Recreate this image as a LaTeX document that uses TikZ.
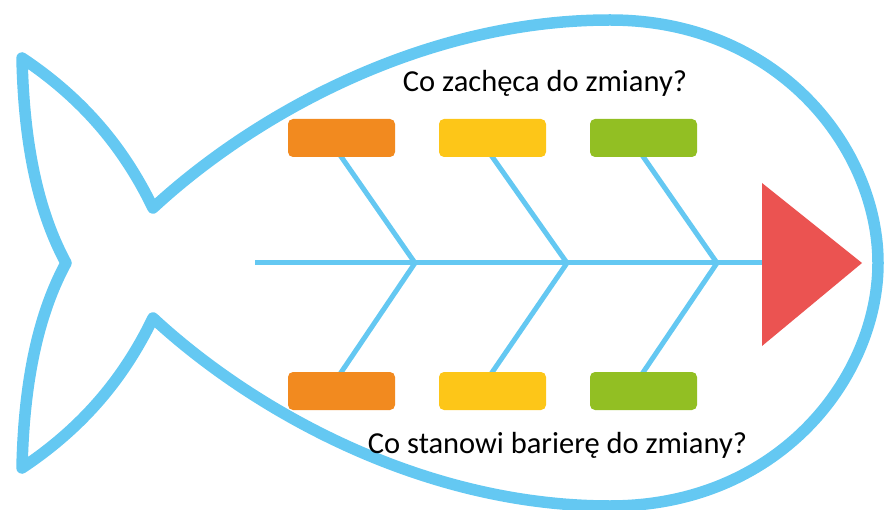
\documentclass[tikz,border=0pt]{standalone}
\usepackage{fontspec}
\setmainfont{Carlito}
\usetikzlibrary{backgrounds}
\definecolor{fishblue}{HTML}{64C8F2}
\definecolor{borange}{HTML}{F28A1F}
\definecolor{byellow}{HTML}{FDC618}
\definecolor{bgreen}{HTML}{92BF23}
\definecolor{headred}{HTML}{EB5351}
\begin{document}
\begin{tikzpicture}[x=1pt,y=-1pt,
  outline/.style={draw=fishblue,line width=11.5pt,line join=round},
  bone/.style={draw=fishblue,line width=5pt},
  rib/.style={bone,shorten >=-6pt},
  card/.style={rounded corners=5pt,minimum width=107pt,minimum height=38pt,inner sep=0pt,draw=none},
  question/.style={font=\fontsize{30.5}{34}\selectfont,anchor=base,inner sep=0pt}]
\useasboundingbox (0,0) rectangle (885,510);
% fish outline
\draw[outline] (153,208)
  .. controls (250,118) and (420,20) .. (610,20)
  .. controls (780,20) and (878,150) .. (878,263)
  .. controls (878,376) and (780,506) .. (610,506)
  .. controls (420,506) and (250,408) .. (153,318)
  .. controls (125,376) and (85,426) .. (22,468)
  .. controls (24,376) and (40,311) .. (66,263)
  .. controls (40,215) and (24,150) .. (22,58)
  .. controls (85,100) and (125,150) .. cycle;
% spine junctions
\coordinate (s0) at (255,263);
\coordinate (j1) at (415,263);
\coordinate (j2) at (567,263);
\coordinate (j3) at (717,263);
\coordinate (hl) at (763,263);
% cards
\node[card,fill=borange] (t1) at (341.5,138) {};
\node[card,fill=byellow] (t2) at (492.5,138) {};
\node[card,fill=bgreen] (t3) at (643.5,138) {};
\node[card,fill=borange] (b1) at (341.5,391) {};
\node[card,fill=byellow] (b2) at (492.5,391) {};
\node[card,fill=bgreen] (b3) at (643.5,391) {};
% bones (behind the cards)
\begin{scope}[on background layer]
\draw[bone] (s0) -- (hl);
\draw[rib] (j1) -- (t1.south);
\draw[rib] (j2) -- (t2.south);
\draw[rib] (j3) -- (t3.south);
\draw[rib] (j1) -- (b1.north);
\draw[rib] (j2) -- (b2.north);
\draw[rib] (j3) -- (b3.north);
\end{scope}
% head
\fill[headred] (762,183) -- (862,263) -- (762,346) -- cycle;
% texts
\node[question] (q1) at (545,92) {Co zachęca do zmiany?};
\node[question] (q2) at (557.5,453) {Co stanowi barierę do zmiany?};
\end{tikzpicture}
\end{document}
